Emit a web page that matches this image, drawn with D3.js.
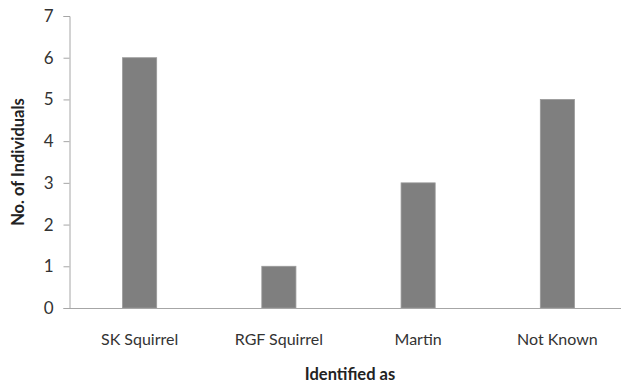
<!DOCTYPE html>
<html><head><meta charset="utf-8">
<script src="https://cdn.jsdelivr.net/npm/d3@7"></script>
<style>body{margin:0;background:#fff}svg{display:block}</style>
</head><body>
<script>
const categories = ["SK Squirrel", "RGF Squirrel", "Martin", "Not Known"];
const values = [6, 1, 3, 5];
const yTicks = [0, 1, 2, 3, 4, 5, 6, 7];

const W = 621, H = 385;
const svg = d3.select("body").append("svg").attr("width", W).attr("height", H);
const font = "Lato, 'Liberation Sans', sans-serif";

const x = d3.scaleBand().domain(categories).range([70, 627]).paddingInner(0.755).paddingOuter(0.3775);
const y = d3.scaleLinear().domain([0, 7]).range([308, 16]);

// bars
svg.selectAll("rect.bar").data(values).join("rect")
  .attr("class", "bar")
  .attr("x", (d, i) => x(categories[i]))
  .attr("width", x.bandwidth())
  .attr("y", d => y(d))
  .attr("height", d => y(0) - y(d))
  .attr("fill", "#7f7f7f")
  .attr("stroke", "#9a9a9a").attr("stroke-width", 0.8);

// y axis
const yAxis = svg.append("g").attr("transform", "translate(69.5,0)")
  .call(d3.axisLeft(y).tickValues(yTicks).tickSize(6).tickPadding(10).tickFormat(d3.format("d")));
yAxis.select(".domain").attr("stroke", "#a6a6a6");
yAxis.selectAll(".tick line").attr("stroke", "#a6a6a6");
yAxis.selectAll(".tick text").attr("fill", "#333").style("font-family", font).style("font-size", "17px");

// x axis
const xAxis = svg.append("g").attr("transform", "translate(0,308.5)")
  .call(d3.axisBottom(x).tickSize(0).tickPadding(25));
xAxis.select(".domain").attr("stroke", "#a6a6a6").attr("d", "M69.5,0H621");
xAxis.selectAll(".tick text").attr("fill", "#333").style("font-family", font).style("font-size", "16px");

// axis titles
svg.append("text").attr("x", 350).attr("y", 380)
  .attr("text-anchor", "middle").attr("fill", "#222")
  .style("font-family", font).style("font-size", "16.5px").style("font-weight", "bold")
  .text("Identified as");
svg.append("text").attr("transform", "translate(24,162) rotate(-90)")
  .attr("text-anchor", "middle").attr("fill", "#222")
  .style("font-family", font).style("font-size", "16.5px").style("font-weight", "bold")
  .text("No. of Individuals");
</script>
</body></html>
